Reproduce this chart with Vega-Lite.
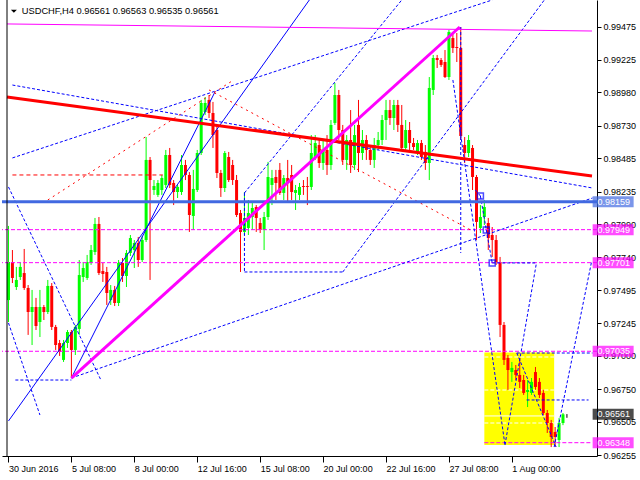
{
"$schema":"https://vega.github.io/schema/vega-lite/v6.json",
"width":595,"height":456,
"autosize":{"type":"none"},
"padding":{"left":2,"top":0,"right":43,"bottom":24},
"background":"white",
"config":{"view":{"stroke":null},"font":"Liberation Sans"},
"resolve":{"axis":{"x":"independent","y":"independent"}},
"datasets":{
"candles":[
{"i":0,"o":0.97420,"c":0.97706,"h":0.97977,"l":0.97255},
{"i":1,"o":0.97706,"c":0.97586,"h":0.97796,"l":0.97548},
{"i":2,"o":0.97518,"c":0.97571,"h":0.97669,"l":0.97496},
{"i":3,"o":0.97593,"c":0.97669,"h":0.97706,"l":0.97571},
{"i":4,"o":0.97623,"c":0.97511,"h":0.97804,"l":0.97496},
{"i":5,"o":0.97511,"c":0.97330,"h":0.97533,"l":0.97158},
{"i":6,"o":0.97330,"c":0.97368,"h":0.97496,"l":0.97082},
{"i":7,"o":0.97368,"c":0.97225,"h":0.97436,"l":0.97195},
{"i":8,"o":0.97255,"c":0.97368,"h":0.97496,"l":0.97142},
{"i":9,"o":0.97368,"c":0.97330,"h":0.97383,"l":0.97270},
{"i":10,"o":0.97330,"c":0.97526,"h":0.97571,"l":0.97315},
{"i":11,"o":0.97526,"c":0.97218,"h":0.97548,"l":0.97195},
{"i":12,"o":0.97218,"c":0.97082,"h":0.97233,"l":0.97045},
{"i":13,"o":0.97097,"c":0.97030,"h":0.97120,"l":0.97000},
{"i":14,"o":0.96970,"c":0.97097,"h":0.97120,"l":0.96955},
{"i":15,"o":0.97097,"c":0.97180,"h":0.97195,"l":0.97060},
{"i":16,"o":0.97180,"c":0.97045,"h":0.97195,"l":0.96834},
{"i":17,"o":0.97045,"c":0.97218,"h":0.97233,"l":0.97007},
{"i":18,"o":0.97203,"c":0.97608,"h":0.97721,"l":0.97158},
{"i":19,"o":0.97593,"c":0.97661,"h":0.97706,"l":0.97556},
{"i":20,"o":0.97586,"c":0.97706,"h":0.97759,"l":0.97571},
{"i":21,"o":0.97699,"c":0.97796,"h":0.97834,"l":0.97684},
{"i":22,"o":0.97781,"c":0.97992,"h":0.98037,"l":0.97759},
{"i":23,"o":0.97992,"c":0.97623,"h":0.98044,"l":0.97608},
{"i":24,"o":0.97638,"c":0.97616,"h":0.97699,"l":0.97556},
{"i":25,"o":0.97631,"c":0.97473,"h":0.97669,"l":0.97383},
{"i":26,"o":0.97420,"c":0.97496,"h":0.97533,"l":0.97383},
{"i":27,"o":0.97496,"c":0.97398,"h":0.97526,"l":0.97375},
{"i":28,"o":0.97398,"c":0.97699,"h":0.97721,"l":0.97375},
{"i":29,"o":0.97699,"c":0.97601,"h":0.97736,"l":0.97556},
{"i":30,"o":0.97601,"c":0.97774,"h":0.97796,"l":0.97518},
{"i":31,"o":0.97774,"c":0.97886,"h":0.97909,"l":0.97751},
{"i":32,"o":0.97796,"c":0.97849,"h":0.97871,"l":0.97661},
{"i":33,"o":0.97849,"c":0.97721,"h":0.97894,"l":0.97669},
{"i":34,"o":0.97721,"c":0.97871,"h":0.97902,"l":0.97706},
{"i":35,"o":0.97871,"c":0.98473,"h":0.98645,"l":0.97856},
{"i":36,"o":0.98473,"c":0.98322,"h":0.98495,"l":0.97571},
{"i":37,"o":0.98247,"c":0.98277,"h":0.98322,"l":0.98210},
{"i":38,"o":0.98210,"c":0.98300,"h":0.98322,"l":0.98195},
{"i":39,"o":0.98247,"c":0.98337,"h":0.98360,"l":0.98210},
{"i":40,"o":0.98285,"c":0.98510,"h":0.98548,"l":0.98262},
{"i":41,"o":0.98510,"c":0.98285,"h":0.98563,"l":0.98262},
{"i":42,"o":0.98300,"c":0.98232,"h":0.98322,"l":0.98134},
{"i":43,"o":0.98232,"c":0.98270,"h":0.98285,"l":0.98187},
{"i":44,"o":0.98232,"c":0.98435,"h":0.98510,"l":0.98210},
{"i":45,"o":0.98435,"c":0.98360,"h":0.98473,"l":0.98322},
{"i":46,"o":0.98360,"c":0.98059,"h":0.98382,"l":0.97932},
{"i":47,"o":0.98052,"c":0.98255,"h":0.98398,"l":0.97947},
{"i":48,"o":0.98247,"c":0.98525,"h":0.98548,"l":0.98232},
{"i":49,"o":0.98525,"c":0.98901,"h":0.98924,"l":0.98510},
{"i":50,"o":0.98833,"c":0.98901,"h":0.98946,"l":0.98811},
{"i":51,"o":0.98924,"c":0.98826,"h":0.98961,"l":0.98788},
{"i":52,"o":0.98826,"c":0.98660,"h":0.98909,"l":0.98563},
{"i":53,"o":0.98698,"c":0.98375,"h":0.98736,"l":0.98337},
{"i":54,"o":0.98375,"c":0.98262,"h":0.98398,"l":0.98195},
{"i":55,"o":0.98262,"c":0.98525,"h":0.98540,"l":0.98232},
{"i":56,"o":0.98495,"c":0.98322,"h":0.98533,"l":0.98307},
{"i":57,"o":0.98435,"c":0.98322,"h":0.98473,"l":0.98285},
{"i":58,"o":0.98322,"c":0.98059,"h":0.98360,"l":0.98044},
{"i":59,"o":0.98074,"c":0.97932,"h":0.98097,"l":0.97631},
{"i":60,"o":0.97932,"c":0.98037,"h":0.98232,"l":0.97909},
{"i":61,"o":0.97962,"c":0.98074,"h":0.98172,"l":0.97909},
{"i":62,"o":0.98044,"c":0.98112,"h":0.98149,"l":0.97947},
{"i":63,"o":0.98119,"c":0.98037,"h":0.98134,"l":0.97932},
{"i":64,"o":0.97999,"c":0.97947,"h":0.98037,"l":0.97924},
{"i":65,"o":0.97947,"c":0.98044,"h":0.98082,"l":0.97796},
{"i":66,"o":0.98044,"c":0.98345,"h":0.98458,"l":0.98022},
{"i":67,"o":0.98285,"c":0.98337,"h":0.98398,"l":0.98134},
{"i":68,"o":0.98345,"c":0.98300,"h":0.98398,"l":0.98172},
{"i":69,"o":0.98398,"c":0.98225,"h":0.98450,"l":0.98210},
{"i":70,"o":0.98225,"c":0.98337,"h":0.98360,"l":0.98172},
{"i":71,"o":0.98337,"c":0.98300,"h":0.98473,"l":0.98157},
{"i":72,"o":0.98360,"c":0.98232,"h":0.98435,"l":0.98172},
{"i":73,"o":0.98225,"c":0.98247,"h":0.98285,"l":0.98097},
{"i":74,"o":0.98210,"c":0.98270,"h":0.98300,"l":0.98172},
{"i":75,"o":0.98277,"c":0.98270,"h":0.98322,"l":0.98210},
{"i":76,"o":0.98277,"c":0.98270,"h":0.98345,"l":0.98134},
{"i":77,"o":0.98270,"c":0.98525,"h":0.98660,"l":0.98247},
{"i":78,"o":0.98495,"c":0.98600,"h":0.98660,"l":0.98473},
{"i":79,"o":0.98585,"c":0.98450,"h":0.98623,"l":0.98413},
{"i":80,"o":0.98450,"c":0.98548,"h":0.98623,"l":0.98398},
{"i":81,"o":0.98548,"c":0.98435,"h":0.98660,"l":0.98360},
{"i":82,"o":0.98435,"c":0.98736,"h":0.98773,"l":0.98398},
{"i":83,"o":0.98751,"c":0.98961,"h":0.99051,"l":0.98736},
{"i":84,"o":0.98961,"c":0.98698,"h":0.98999,"l":0.98623},
{"i":85,"o":0.98698,"c":0.98473,"h":0.98736,"l":0.98435},
{"i":86,"o":0.98473,"c":0.98623,"h":0.98660,"l":0.98398},
{"i":87,"o":0.98623,"c":0.98435,"h":0.98848,"l":0.98375},
{"i":88,"o":0.98435,"c":0.98660,"h":0.98736,"l":0.98398},
{"i":89,"o":0.98736,"c":0.98525,"h":0.98924,"l":0.98382},
{"i":90,"o":0.98525,"c":0.98623,"h":0.98698,"l":0.98473},
{"i":91,"o":0.98623,"c":0.98548,"h":0.98660,"l":0.98473},
{"i":92,"o":0.98548,"c":0.98473,"h":0.98585,"l":0.98435},
{"i":93,"o":0.98473,"c":0.98585,"h":0.98638,"l":0.98413},
{"i":94,"o":0.98585,"c":0.98623,"h":0.98683,"l":0.98548},
{"i":95,"o":0.98623,"c":0.98773,"h":0.98811,"l":0.98585},
{"i":96,"o":0.98773,"c":0.98848,"h":0.98924,"l":0.98623},
{"i":97,"o":0.98848,"c":0.98788,"h":0.98924,"l":0.98736},
{"i":98,"o":0.98788,"c":0.98886,"h":0.98924,"l":0.98698},
{"i":99,"o":0.98886,"c":0.98736,"h":0.98924,"l":0.98683},
{"i":100,"o":0.98736,"c":0.98563,"h":0.98886,"l":0.98548},
{"i":101,"o":0.98563,"c":0.98698,"h":0.98773,"l":0.98548},
{"i":102,"o":0.98698,"c":0.98600,"h":0.98758,"l":0.98548},
{"i":103,"o":0.98600,"c":0.98570,"h":0.98638,"l":0.98548},
{"i":104,"o":0.98533,"c":0.98600,"h":0.98623,"l":0.98510},
{"i":105,"o":0.98600,"c":0.98495,"h":0.98623,"l":0.98473},
{"i":106,"o":0.98533,"c":0.98450,"h":0.98585,"l":0.98398},
{"i":107,"o":0.98450,"c":0.99014,"h":0.99096,"l":0.98322},
{"i":108,"o":0.98999,"c":0.99239,"h":0.99262,"l":0.98961},
{"i":109,"o":0.99239,"c":0.99224,"h":0.99262,"l":0.99164},
{"i":110,"o":0.99224,"c":0.99187,"h":0.99239,"l":0.99172},
{"i":111,"o":0.99209,"c":0.99096,"h":0.99299,"l":0.99089},
{"i":112,"o":0.99096,"c":0.99435,"h":0.99450,"l":0.99074},
{"i":113,"o":0.99389,"c":0.99314,"h":0.99427,"l":0.99277},
{"i":114,"o":0.99322,"c":0.99314,"h":0.99427,"l":0.99209},
{"i":115,"o":0.99314,"c":0.98653,"h":0.99472,"l":0.98623},
{"i":116,"o":0.98585,"c":0.98525,"h":0.98645,"l":0.98450},
{"i":117,"o":0.98525,"c":0.98623,"h":0.98660,"l":0.98495},
{"i":118,"o":0.98563,"c":0.98345,"h":0.98585,"l":0.98247},
{"i":119,"o":0.98345,"c":0.98007,"h":0.98360,"l":0.97871},
{"i":120,"o":0.97962,"c":0.98044,"h":0.98134,"l":0.97924},
{"i":121,"o":0.98044,"c":0.98119,"h":0.98172,"l":0.97984},
{"i":122,"o":0.97999,"c":0.97886,"h":0.98037,"l":0.97796},
{"i":123,"o":0.97909,"c":0.97871,"h":0.97969,"l":0.97744},
{"i":124,"o":0.97871,"c":0.97706,"h":0.97909,"l":0.97684},
{"i":125,"o":0.97706,"c":0.97233,"h":0.97744,"l":0.97142},
{"i":126,"o":0.97233,"c":0.96970,"h":0.97255,"l":0.96932},
{"i":127,"o":0.96985,"c":0.96894,"h":0.97007,"l":0.96745},
{"i":128,"o":0.96879,"c":0.96910,"h":0.96955,"l":0.96805},
{"i":129,"o":0.96894,"c":0.96857,"h":0.96932,"l":0.96819},
{"i":130,"o":0.96857,"c":0.96805,"h":0.96985,"l":0.96759},
{"i":131,"o":0.96819,"c":0.96722,"h":0.96857,"l":0.96707},
{"i":132,"o":0.96729,"c":0.96745,"h":0.96819,"l":0.96616},
{"i":133,"o":0.96722,"c":0.96805,"h":0.96834,"l":0.96707},
{"i":134,"o":0.96879,"c":0.96767,"h":0.96917,"l":0.96745},
{"i":135,"o":0.96805,"c":0.96707,"h":0.96834,"l":0.96684},
{"i":136,"o":0.96722,"c":0.96571,"h":0.96745,"l":0.96556},
{"i":137,"o":0.96571,"c":0.96496,"h":0.96594,"l":0.96421},
{"i":138,"o":0.96496,"c":0.96391,"h":0.96519,"l":0.96315},
{"i":139,"o":0.96429,"c":0.96391,"h":0.96466,"l":0.96315},
{"i":140,"o":0.96368,"c":0.96496,"h":0.96534,"l":0.96315},
{"i":141,"o":0.96496,"c":0.96561,"h":0.96571,"l":0.96480},
{"i":142,"o":0.96561,"c":0.96561,"h":0.96563,"l":0.96535}
],
"levels":[
{"p":0.98159,"k":"blue"},{"p":0.97949,"k":"mag"},{"p":0.97701,"k":"mag"},{"p":0.97035,"k":"mag"},{"p":0.96348,"k":"mag2"},{"p":0.96561,"k":"bid"}
],
"lines":[
{"g":"bd","id":"d1","i":1,"p":0.99036},{"g":"bd","id":"d1","i":148.5,"p":0.98262},
{"g":"bd","id":"d2","i":1,"p":0.98488},{"g":"bd","id":"d2","i":123,"p":0.99675},
{"g":"bd","id":"d3","i":1.75,"p":0.96819},{"g":"bd","id":"d3","i":16,"p":0.96819},
{"g":"bd","id":"d4","i":16,"p":0.96834},{"g":"bd","id":"d4","i":148.5,"p":0.98187},
{"g":"bd","id":"d5","i":0,"p":0.98270},{"g":"bd","id":"d5","i":23.5,"p":0.96819},
{"g":"bd","id":"d6","i":0,"p":0.97248},{"g":"bd","id":"d6","i":8,"p":0.96556},
{"g":"bd","id":"d7","i":115,"p":0.99472},{"g":"bd","id":"d7","i":115,"p":0.97774},
{"g":"bd","id":"d8","i":113,"p":0.99074},{"g":"bd","id":"d8","i":126.25,"p":0.96331},
{"g":"bd","id":"d9","i":126.25,"p":0.96331},{"g":"bd","id":"d9","i":134.25,"p":0.97699},
{"g":"bd","id":"d11","i":129.25,"p":0.97022},{"g":"bd","id":"d11","i":139.25,"p":0.96316},
{"g":"bd","id":"d12","i":138.75,"p":0.96316},{"g":"bd","id":"d12","i":148.25,"p":0.97706},
{"g":"bd","id":"d13","i":129.25,"p":0.97022},{"g":"bd","id":"d13","i":148.5,"p":0.97022},
{"g":"bd","id":"d14","i":131.75,"p":0.96669},{"g":"bd","id":"d14","i":147.5,"p":0.96669},
{"g":"bd","id":"d15a","i":118.75,"p":0.98247},{"g":"bd","id":"d15a","i":120,"p":0.98202},
{"g":"bd","id":"d15b","i":120,"p":0.98202},{"g":"bd","id":"d15b","i":121.5,"p":0.97947},
{"g":"bd","id":"d15c","i":121.5,"p":0.97947},{"g":"bd","id":"d15c","i":123,"p":0.97699},
{"g":"bd","id":"d15d","i":123,"p":0.97699},{"g":"bd","id":"d15d","i":134.25,"p":0.97699},
{"g":"bd","id":"d17a","i":60,"p":0.98225},{"g":"bd","id":"d17a","i":60,"p":0.97631},
{"g":"bd","id":"d17b","i":60,"p":0.97631},{"g":"bd","id":"d17b","i":85,"p":0.97631},
{"g":"bd","id":"d17c","i":85,"p":0.97631},{"g":"bd","id":"d17c","i":136.25,"p":0.99675},
{"g":"bd","id":"d17d","i":60,"p":0.98225},{"g":"bd","id":"d17d","i":100,"p":0.99675},
{"g":"bs","id":"s1","i":0,"p":0.96511},{"g":"bs","id":"s1","i":76.5,"p":0.99675},
{"g":"bs","id":"s2","i":16,"p":0.96834},{"g":"bs","id":"s2","i":52.5,"p":0.98984},
{"g":"rh","id":"r1","i":1,"p":0.98360},{"g":"rh","id":"r1","i":39.25,"p":0.98360},
{"g":"rd","id":"r2","i":10,"p":0.98172},{"g":"rd","id":"r2","i":57.25,"p":0.99074},
{"g":"rd","id":"r3","i":51,"p":0.98999},{"g":"rd","id":"r3","i":117.5,"p":0.97947},
{"g":"mt","id":"m1","i":16,"p":0.96834},{"g":"mt","id":"m1","i":114.75,"p":0.99472},
{"g":"mn","id":"m2","i":-0.375,"p":0.99495},{"g":"mn","id":"m2","i":148.375,"p":0.99442},
{"g":"rt","id":"t1","i":-0.375,"p":0.98946},{"g":"rt","id":"t1","i":148.375,"p":0.98352},
{"g":"md","id":"md1","i":121,"p":0.96348},{"g":"md","id":"md1","i":148.375,"p":0.96348},
{"g":"wd","id":"w1","i":121,"p":0.96992},{"g":"wd","id":"w1","i":138.75,"p":0.96992},
{"g":"wd","id":"w2","i":121,"p":0.96744},{"g":"wd","id":"w2","i":138.75,"p":0.96744},
{"g":"wd","id":"w3","i":121,"p":0.96496},{"g":"wd","id":"w3","i":138.75,"p":0.96496},
{"g":"ws","id":"w4","i":121,"p":0.96549},{"g":"ws","id":"w4","i":138.75,"p":0.96549}
],
"box":[{"i1":121,"i2":138.75,"p1":0.96330,"p2":0.97025}],
"squares":[{"i":120,"p":0.98202},{"i":121.5,"p":0.97947},{"i":123,"p":0.97699}],
"title":[{"t":"USDCHF,H4  0.96561 0.96563 0.96535 0.96561"}]
},
"layer":[
{"data":{"name":"box"},"mark":{"type":"rect","color":"#ffff00"},
 "encoding":{
  "x":{"field":"i1","type":"quantitative","scale":{"domain":[-0.375,148.375],"nice":false,"zero":false},"axis":null},
  "x2":{"field":"i2"},
  "y":{"field":"p1","type":"quantitative","scale":{"domain":[0.96248,0.99675],"nice":false,"zero":false},"axis":null},
  "y2":{"field":"p2"}}},
{"data":{"name":"lines"},"transform":[{"filter":"datum.g=='wd'"}],"mark":{"type":"line","color":"#ffffff","strokeWidth":1,"strokeDash":[4,2],"clip":true},
 "encoding":{"x":{"field":"i","type":"quantitative","scale":{"domain":[-0.375,148.375],"nice":false,"zero":false},"axis":null},"y":{"field":"p","type":"quantitative","scale":{"domain":[0.96248,0.99675],"nice":false,"zero":false},"axis":null},"detail":{"field":"id"}}},
{"data":{"name":"lines"},"transform":[{"filter":"datum.g=='ws'"}],"mark":{"type":"line","color":"#ffffff","strokeWidth":1,"clip":true},
 "encoding":{"x":{"field":"i","type":"quantitative","scale":{"domain":[-0.375,148.375],"nice":false,"zero":false},"axis":null},"y":{"field":"p","type":"quantitative","scale":{"domain":[0.96248,0.99675],"nice":false,"zero":false},"axis":null},"detail":{"field":"id"}}},
{"data":{"name":"candles"},"mark":{"type":"rule","strokeWidth":1},
 "encoding":{
  "x":{"field":"i","type":"quantitative","scale":{"domain":[-0.375,148.375],"nice":false,"zero":false},
   "axis":{"orient":"bottom","values":[0,16,32,48,64,80,96,112,128],
    "labelExpr":"['30 Jun 2016','5 Jul 08:00','8 Jul 00:00','12 Jul 16:00','15 Jul 08:00','20 Jul 00:00','22 Jul 16:00','27 Jul 08:00','1 Aug 00:00'][round(datum.value/16)]",
    "labelAlign":"left","labelDx":1,"labelColor":"#000000","labelFont":"Liberation Sans","labelFontSize":9,"labelPadding":2,
    "tickColor":"#000000","tickSize":6,"domainColor":"#000000","grid":false,"title":null,"labelFlush":false,"labelOverlap":false}},
  "y":{"field":"l","type":"quantitative","scale":{"domain":[0.96248,0.99675],"nice":false,"zero":false},
   "axis":{"orient":"right","values":[0.99475,0.99225,0.9898,0.9873,0.98485,0.98235,0.9799,0.9774,0.97495,0.97245,0.97,0.9675,0.96505,0.96255],
    "format":".5f","labelColor":"#000000","labelFont":"Liberation Sans","labelFontSize":9,"labelPadding":2,
    "tickColor":"#000000","tickSize":4,"domainColor":"#000000","grid":false,"title":null,"labelOverlap":false,"labelFlush":false}},
  "y2":{"field":"h"},
  "color":{"condition":[{"test":"datum.c > datum.o","value":"#00ff00"},{"test":"datum.c < datum.o","value":"#ff0000"}],"value":"#000000"}}},
{"data":{"name":"candles"},"mark":{"type":"bar","size":3},
 "encoding":{
  "x":{"field":"i","type":"quantitative","scale":{"domain":[-0.375,148.375],"nice":false,"zero":false},"axis":null},
  "y":{"field":"o","type":"quantitative","scale":{"domain":[0.96248,0.99675],"nice":false,"zero":false},"axis":null},
  "y2":{"field":"c"},
  "color":{"condition":[{"test":"datum.c > datum.o","value":"#00ff00"},{"test":"datum.c < datum.o","value":"#ff0000"}],"value":"#000000"}}},
{"data":{"name":"levels"},"transform":[{"filter":"datum.k=='mag'"}],"mark":{"type":"rule","color":"#ff00ff","strokeWidth":1,"strokeDash":[4,2]},
 "encoding":{"y":{"field":"p","type":"quantitative","scale":{"domain":[0.96248,0.99675],"nice":false,"zero":false},"axis":null}}},
{"data":{"name":"lines"},"transform":[{"filter":"datum.g=='md'"}],"mark":{"type":"line","color":"#ff00ff","strokeWidth":1,"strokeDash":[4,2],"clip":true},
 "encoding":{"x":{"field":"i","type":"quantitative","scale":{"domain":[-0.375,148.375],"nice":false,"zero":false},"axis":null},"y":{"field":"p","type":"quantitative","scale":{"domain":[0.96248,0.99675],"nice":false,"zero":false},"axis":null},"detail":{"field":"id"}}},
{"data":{"name":"lines"},"transform":[{"filter":"datum.g=='bd'"}],"mark":{"type":"line","color":"#0000ff","strokeWidth":1,"strokeDash":[3,2],"clip":true},
 "encoding":{"x":{"field":"i","type":"quantitative","scale":{"domain":[-0.375,148.375],"nice":false,"zero":false},"axis":null},"y":{"field":"p","type":"quantitative","scale":{"domain":[0.96248,0.99675],"nice":false,"zero":false},"axis":null},"detail":{"field":"id"}}},
{"data":{"name":"lines"},"transform":[{"filter":"datum.g=='bs'"}],"mark":{"type":"line","color":"#0000ff","strokeWidth":1,"clip":true},
 "encoding":{"x":{"field":"i","type":"quantitative","scale":{"domain":[-0.375,148.375],"nice":false,"zero":false},"axis":null},"y":{"field":"p","type":"quantitative","scale":{"domain":[0.96248,0.99675],"nice":false,"zero":false},"axis":null},"detail":{"field":"id"}}},
{"data":{"name":"lines"},"transform":[{"filter":"datum.g=='rh'"}],"mark":{"type":"line","color":"#ff0000","strokeWidth":1,"strokeDash":[4,3],"clip":true},
 "encoding":{"x":{"field":"i","type":"quantitative","scale":{"domain":[-0.375,148.375],"nice":false,"zero":false},"axis":null},"y":{"field":"p","type":"quantitative","scale":{"domain":[0.96248,0.99675],"nice":false,"zero":false},"axis":null},"detail":{"field":"id"}}},
{"data":{"name":"lines"},"transform":[{"filter":"datum.g=='rd'"}],"mark":{"type":"line","color":"#ff0000","strokeWidth":1,"strokeDash":[2,4],"clip":true},
 "encoding":{"x":{"field":"i","type":"quantitative","scale":{"domain":[-0.375,148.375],"nice":false,"zero":false},"axis":null},"y":{"field":"p","type":"quantitative","scale":{"domain":[0.96248,0.99675],"nice":false,"zero":false},"axis":null},"detail":{"field":"id"}}},
{"data":{"name":"lines"},"transform":[{"filter":"datum.g=='mn'"}],"mark":{"type":"line","color":"#ff00ff","strokeWidth":1,"clip":true},
 "encoding":{"x":{"field":"i","type":"quantitative","scale":{"domain":[-0.375,148.375],"nice":false,"zero":false},"axis":null},"y":{"field":"p","type":"quantitative","scale":{"domain":[0.96248,0.99675],"nice":false,"zero":false},"axis":null},"detail":{"field":"id"}}},
{"data":{"name":"levels"},"transform":[{"filter":"datum.k=='blue'"}],"mark":{"type":"rule","color":"#4169e1","strokeWidth":3},
 "encoding":{"y":{"field":"p","type":"quantitative","scale":{"domain":[0.96248,0.99675],"nice":false,"zero":false},"axis":null}}},
{"data":{"name":"lines"},"transform":[{"filter":"datum.g=='rt'"}],"mark":{"type":"line","color":"#ff0000","strokeWidth":3,"clip":true},
 "encoding":{"x":{"field":"i","type":"quantitative","scale":{"domain":[-0.375,148.375],"nice":false,"zero":false},"axis":null},"y":{"field":"p","type":"quantitative","scale":{"domain":[0.96248,0.99675],"nice":false,"zero":false},"axis":null},"detail":{"field":"id"}}},
{"data":{"name":"lines"},"transform":[{"filter":"datum.g=='mt'"}],"mark":{"type":"line","color":"#ff00ff","strokeWidth":3,"clip":true},
 "encoding":{"x":{"field":"i","type":"quantitative","scale":{"domain":[-0.375,148.375],"nice":false,"zero":false},"axis":null},"y":{"field":"p","type":"quantitative","scale":{"domain":[0.96248,0.99675],"nice":false,"zero":false},"axis":null},"detail":{"field":"id"}}},
{"data":{"name":"squares"},"mark":{"type":"point","shape":"square","filled":false,"color":"#0000ff","size":36,"strokeWidth":1.5},
 "encoding":{"x":{"field":"i","type":"quantitative","scale":{"domain":[-0.375,148.375],"nice":false,"zero":false},"axis":null},"y":{"field":"p","type":"quantitative","scale":{"domain":[0.96248,0.99675],"nice":false,"zero":false},"axis":null}}},
{"data":{"name":"title"},"mark":{"type":"rule","color":"#000000","strokeWidth":1},
 "encoding":{"x":{"datum":-0.375,"type":"quantitative","scale":{"domain":[-0.375,148.375],"nice":false,"zero":false},"axis":null}}},
{"data":{"name":"levels"},"mark":{"type":"tick","orient":"horizontal","thickness":11,"size":41},
 "encoding":{"x":{"datum":153.75,"type":"quantitative","scale":{"domain":[-0.375,148.375],"nice":false,"zero":false},"axis":null},
  "y":{"field":"p","type":"quantitative","scale":{"domain":[0.96248,0.99675],"nice":false,"zero":false},"axis":null},
  "color":{"field":"k","type":"nominal","scale":{"domain":["blue","mag","mag2","bid"],"range":["#4169e1","#ff00ff","#ff00ff","#000000"]},"legend":null}}},
{"data":{"name":"levels"},"mark":{"type":"text","align":"left","baseline":"middle","color":"#ffffff","font":"Liberation Sans","fontSize":9},
 "encoding":{"x":{"datum":149.75,"type":"quantitative","scale":{"domain":[-0.375,148.375],"nice":false,"zero":false},"axis":null},
  "y":{"field":"p","type":"quantitative","scale":{"domain":[0.96248,0.99675],"nice":false,"zero":false},"axis":null},
  "text":{"field":"p","type":"quantitative","format":".5f"}}},
{"data":{"name":"title"},"mark":{"type":"point","shape":"M -1 -0.5 L 1 -0.5 L 0 0.5 Z","filled":true,"color":"#000000","size":36,"opacity":1},
 "encoding":{"x":{"datum":1.375,"type":"quantitative","scale":{"domain":[-0.375,148.375],"nice":false,"zero":false},"axis":null},
  "y":{"datum":0.99590,"type":"quantitative","scale":{"domain":[0.96248,0.99675],"nice":false,"zero":false},"axis":null}}},
{"data":{"name":"title"},"mark":{"type":"text","align":"left","baseline":"middle","color":"#000000","font":"Liberation Sans","fontSize":9.3},
 "encoding":{"x":{"datum":3.375,"type":"quantitative","scale":{"domain":[-0.375,148.375],"nice":false,"zero":false},"axis":null},
  "y":{"datum":0.99595,"type":"quantitative","scale":{"domain":[0.96248,0.99675],"nice":false,"zero":false},"axis":null},
  "text":{"field":"t"}}}
]
}
